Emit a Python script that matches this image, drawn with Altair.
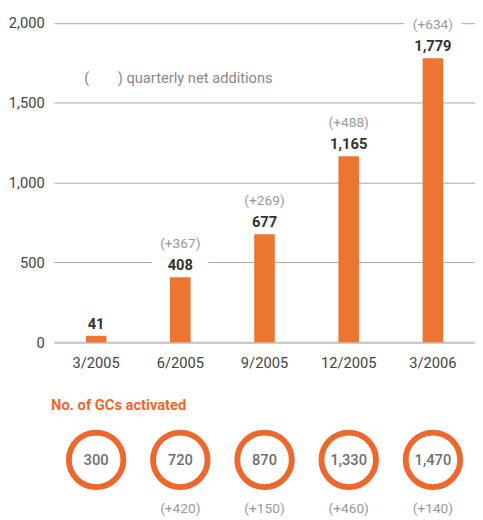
import altair as alt
import pandas as pd

quarters = ["3/2005", "6/2005", "9/2005", "12/2005", "3/2006"]
subscribers = [41, 408, 677, 1165, 1779]
net_adds = [None, 367, 269, 488, 634]
gcs_activated = [300, 720, 870, 1330, 1470]
gc_adds = [None, 420, 150, 460, 140]
y_ticks = [0, 500, 1000, 1500, 2000]
legend_open = "("
legend_text = ") quarterly net additions"
gc_title = "No. of GCs activated"

FONT = "Roboto"
ORANGE = "#EC7631"
RING = "#EE672D"

df = pd.DataFrame({
    "quarter": quarters,
    "subs": subscribers,
    "adds": net_adds,
    "gcs": gcs_activated,
    "gc_adds": gc_adds,
})

xscale = alt.Scale(paddingInner=0, paddingOuter=0)

base = alt.Chart(df).encode(
    x=alt.X("quarter:N", sort=quarters, scale=xscale,
            axis=alt.Axis(title=None, labelAngle=0, ticks=False, domain=True,
                          domainColor="#c4c4c4", domainWidth=2,
                          labelPadding=14, labelFontSize=15, labelColor="#444",
                          labelFont=FONT))
)

yenc = alt.Y("subs:Q", scale=alt.Scale(domain=[0, 2060], nice=False),
             axis=alt.Axis(values=y_ticks, format=",.0f", title=None, domain=False,
                           ticks=False, gridColor="#a8a8a8", gridWidth=1,
                           labelPadding=10, labelFontSize=15, labelColor="#444",
                           labelFont=FONT))

white = base.transform_filter("datum.adds != null").mark_bar(
    color="white", size=58, yOffset=-44, y2Offset=-2
).encode(y=yenc, y2="subs:Q")

bars = base.mark_bar(color=ORANGE, size=21).encode(y=yenc)

values = base.mark_text(baseline="bottom", dy=-4, fontSize=15, fontWeight="bold",
                        color="#333", font=FONT).encode(
    y=yenc, text=alt.Text("subs:Q", format=",.0f"))

parens = base.transform_filter("datum.adds != null").transform_calculate(
    lbl="'(+' + datum.adds + ')'"
).mark_text(baseline="bottom", dy=-27, fontSize=14, color="#999", font=FONT).encode(
    y=yenc, text="lbl:N")

legend_df = pd.DataFrame({"t": [legend_open, legend_text], "px": [31, 65]})
legend = alt.Chart(legend_df).mark_text(
    align="left", baseline="middle", fontSize=15, color="#888", font=FONT
).encode(x=alt.X("px:Q", scale=None), y=alt.value(66), text="t:N")

top = alt.layer(white, bars, values, parens, legend).properties(width=430, height=336)

bbase = alt.Chart(df).encode(
    x=alt.X("quarter:N", sort=quarters, scale=xscale, axis=None)
)
rings = bbase.mark_point(shape="circle", filled=False, size=3100, strokeWidth=6,
                         color=RING, opacity=1)
ring_text = bbase.mark_text(fontSize=15, fontWeight=500, color="#6e6e6e",
                            font=FONT).encode(text=alt.Text("gcs:Q", format=",.0f"))
sub_text = bbase.transform_filter("datum.gc_adds != null").transform_calculate(
    lbl="'(+' + datum.gc_adds + ')'"
).mark_text(dy=50, fontSize=14, color="#999", font=FONT).encode(text="lbl:N")

bottom = alt.layer(rings, ring_text, sub_text).properties(
    width=430, height=80,
    title=alt.TitleParams(gc_title, anchor="start", color=RING, fontSize=15,
                          fontWeight="bold", font=FONT, offset=8, dx=-3)
)

chart = alt.vconcat(top, bottom, spacing=80, bounds="flush").configure(
    padding=0
).configure_view(stroke=None)

chart.save("out.html", embed_options={"renderer": "svg", "actions": False})
